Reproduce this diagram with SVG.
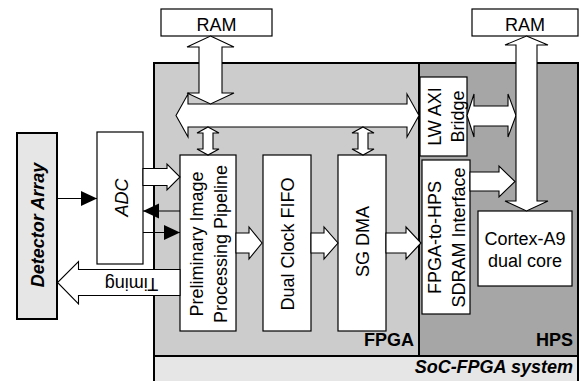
<svg xmlns="http://www.w3.org/2000/svg" width="581" height="381" viewBox="0 0 581 381">
<defs>
<style>
text{font-family:"Liberation Sans",Arial,sans-serif;font-size:18px;fill:#000}
.box{fill:#fff;stroke:#000;stroke-width:1.2}
.blk{fill:#fff;stroke:#000;stroke-width:1.1;stroke-linejoin:miter}
.thin{stroke:#000;stroke-width:1.2;fill:none;marker-end:url(#ah)}
.b{font-weight:bold}
.bi{font-weight:bold;font-style:italic}
.mid{text-anchor:middle}
.end{text-anchor:end}
</style>
<marker id="ah" markerWidth="17" markerHeight="16" refX="16" refY="8" orient="auto" markerUnits="userSpaceOnUse">
<path d="M0,0.5 L16,8 L0,15.5 z" fill="#000"/>
</marker>
</defs>
<rect width="581" height="381" fill="#fff"/>

<g id="soc">
<rect x="154" y="63" width="424" height="330" fill="#e6e6e6" stroke="#000" stroke-width="2"/>
<text class="bi end" x="573" y="373">SoC-FPGA system</text>
</g>
<g id="fpga">
<rect x="154" y="63" width="265" height="293" fill="#cccccc" stroke="#000" stroke-width="2"/>
<text class="b end" x="414" y="346">FPGA</text>
</g>
<g id="hps">
<rect x="419" y="63" width="159" height="293" fill="#a6a6a6" stroke="#000" stroke-width="2"/>
<text class="b end" x="573" y="346">HPS</text>
</g>

<g id="ram1">
<rect class="box" x="161" y="9" width="111" height="27"/>
<text class="mid" x="216.5" y="30.5">RAM</text>
</g>
<g id="ram2">
<rect class="box" x="472" y="9" width="106" height="27"/>
<text class="mid" x="525" y="30.5">RAM</text>
</g>
<g id="detector">
<rect x="17" y="133" width="40" height="186" fill="#e6e6e6" stroke="#000" stroke-width="2"/>
<text class="bi mid" transform="translate(44,225) rotate(-90)">Detector Array</text>
</g>
<g id="adc">
<rect class="box" x="97" y="132" width="46" height="132"/>
<text class="mid" font-style="italic" transform="translate(128,197.5) rotate(-90)">ADC</text>
</g>
<g id="pipeline">
<rect class="box" x="180" y="155" width="56" height="176"/>
<text class="mid" transform="translate(203,244) rotate(-90)">Preliminary Image</text>
<text class="mid" transform="translate(226.5,244) rotate(-90)">Processing Pipeline</text>
</g>
<g id="fifo">
<rect class="box" x="263" y="155" width="48" height="176"/>
<text class="mid" transform="translate(293.5,244) rotate(-90)">Dual Clock FIFO</text>
</g>
<g id="sgdma">
<rect class="box" x="338" y="155" width="48" height="176"/>
<text class="mid" transform="translate(369,241.5) rotate(-90)">SG DMA</text>
</g>
<g id="lwaxi">
<rect class="box" x="420" y="77" width="47" height="79"/>
<text class="mid" transform="translate(441,116.5) rotate(-90)">LW AXI</text>
<text class="mid" transform="translate(464,116.5) rotate(-90)">Bridge</text>
</g>
<g id="f2h">
<rect class="box" x="422" y="160" width="48" height="154"/>
<text class="mid" transform="translate(440.5,237.5) rotate(-90)">FPGA-to-HPS</text>
<text class="mid" transform="translate(465,237.5) rotate(-90)">SDRAM Interface</text>
</g>
<g id="cortex">
<rect class="box" x="478" y="211" width="94" height="75"/>
<text class="mid" x="525" y="245">Cortex-A9</text>
<text class="mid" x="525" y="267">dual core</text>
</g>

<g id="connectors">
<polygon class="blk" points="176,115.5 188,94 188,104 407,104 407,94 419,115.5 407,137 407,127 188,127 188,137"/>
<polygon class="blk" points="210.5,36 234,47 222,47 222,93 234,93 210.5,104 187,93 199,93 199,47 187,47"/>
<polygon class="blk" points="208,127 219,133 213,133 213,149 219,149 208,155 197,149 203,149 203,133 197,133"/>
<polygon class="blk" points="363,127 374,133 368,133 368,149 374,149 363,155 352,149 358,149 358,133 352,133"/>
<polygon class="blk" points="467,115.5 474,94 474,106 508,106 508,94 516,115.5 508,137 508,126 474,126 474,137"/>
<polygon class="blk" points="526.5,36 548,45 537,45 537,201 548,201 526.5,211 505,201 516,201 516,45 505,45"/>
<polygon class="blk" points="470,172 499,172 499,166 515,181.5 499,197 499,191 470,191"/>
<polygon class="blk" points="236,233 249,233 249,227 262,243 249,259 249,253 236,253"/>
<polygon class="blk" points="311,233 324,233 324,227 338,243 324,259 324,253 311,253"/>
<polygon class="blk" points="386,233 406,233 406,227 421,243 406,259 406,253 386,253"/>
<polygon class="blk" points="143,168.5 167,168.5 167,164 180,177 167,190 167,185.5 143,185.5"/>
<polygon class="blk" points="180,269.5 78.5,269.5 78.5,261.5 57.5,282.5 78.5,304 78.5,295.5 180,295.5"/>
<text class="mid" font-size="17" transform="translate(131.5,278) rotate(180)">Timing</text>
<line class="thin" x1="57" y1="198.5" x2="97" y2="198.5"/>
<line class="thin" x1="180" y1="211" x2="143" y2="211"/>
<line class="thin" x1="143" y1="232.5" x2="180" y2="232.5"/>
</g>
</svg>
